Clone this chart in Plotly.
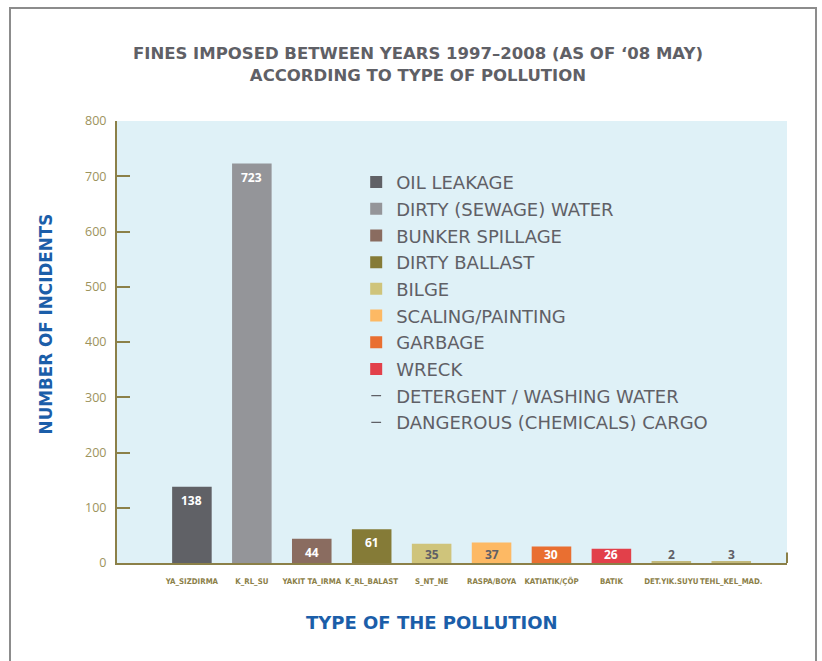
import plotly.graph_objects as go

categories = ["YA_SIZDIRMA", "K_RL_SU", "YAKIT TA_IRMA", "K_RL_BALAST", "S_NT_NE",
              "RASPA/BOYA", "KATIATIK/ÇÖP", "BATIK", "DET.YIK.SUYU", "TEHL_KEL_MAD."]
values = [138, 723, 44, 61, 35, 37, 30, 26, 2, 3]
legend_names = ["OIL LEAKAGE", "DIRTY (SEWAGE) WATER", "BUNKER SPILLAGE", "DIRTY BALLAST",
                "BILGE", "SCALING/PAINTING", "GARBAGE", "WRECK",
                "DETERGENT / WASHING WATER", "DANGEROUS (CHEMICALS) CARGO"]
colors = ["#606166", "#949599", "#8a6c60", "#857b37", "#cfc47b", "#fdb964",
          "#e96f31", "#e2404a", "#c2b97c", "#c2b97c"]
label_colors = ["white", "white", "white", "white", "#5f6066", "#5f6066",
                "white", "white", "#5f6066", "#5f6066"]
y_ticks = [0, 100, 200, 300, 400, 500, 600, 700, 800]

OLIVE = "#8b8048"
TICKCOL = "#9d935c"
BLUE = "#1b5ea9"
GREY = "#5f6066"
FONT = "DejaVu Sans"

fig = go.Figure()
for i, (cat, v, name, col) in enumerate(zip(categories, values, legend_names, colors)):
    is_dash = i >= 8
    fig.add_trace(go.Bar(
        x=[cat], y=[v], name=name, marker=dict(color=col, line=dict(width=0)),
        width=0.66, showlegend=not is_dash, legendgroup=name,
    ))
    if is_dash:
        fig.add_trace(go.Scatter(
            x=[None], y=[None], mode="markers", name=name, legendgroup=name,
            marker=dict(symbol="line-ew", size=7, color=GREY,
                        line=dict(width=1.3, color=GREY)),
        ))

# value labels
for cat, v, lc in zip(categories, values, label_colors):
    ypos = max(v - 24.5, 14.5)
    fig.add_annotation(x=cat, y=ypos, text=f"<b>{v}</b>", showarrow=False,
                       yanchor="middle", xanchor="center",
                       font=dict(family="Open Sans", size=12, color=lc))

# axis titles
fig.add_annotation(text="TYPE OF THE POLLUTION", xref="paper", yref="paper",
                   x=0.47, y=-0.135, xanchor="center", yanchor="middle", showarrow=False,
                   font=dict(family=FONT, size=18, color=BLUE, weight="bold"))
fig.add_annotation(text="NUMBER OF INCIDENTS", xref="paper", yref="paper",
                   x=-0.106, y=0.542, xanchor="center", yanchor="middle", showarrow=False,
                   textangle=-90,
                   font=dict(family=FONT, size=16.8, color=BLUE, weight="bold"))

# outer frame
fig.add_shape(type="path", xref="paper", yref="paper",
              path="M -0.1597,-0.3 L -0.1597,1.2557 L 1.0433,1.2557 L 1.0433,-0.3",
              line=dict(color="#8c8c8c", width=2))
# small end tick of x axis
fig.add_shape(type="line", xref="paper", yref="paper", x0=1, x1=1, y0=0, y1=0.024,
              line=dict(color=OLIVE, width=2))

fig.update_layout(
    width=822, height=661,
    margin=dict(l=117, r=35, t=121, b=98, autoexpand=False),
    paper_bgcolor="white",
    plot_bgcolor="#dff1f7",
    bargap=0.34,
    title=dict(text="FINES IMPOSED BETWEEN YEARS 1997–2008 (AS OF ‘08 MAY)<br>ACCORDING TO TYPE OF POLLUTION",
               x=0.5085, xanchor="center", y=0.9105, yanchor="middle",
               font=dict(family=FONT, size=16.5, color=GREY, weight="bold")),
    xaxis=dict(
        type="category", range=[-1.25, 9.93],
        showline=True, linecolor=OLIVE, linewidth=2,
        ticks="", showgrid=False, zeroline=False, tickangle=0, automargin=False,
        tickfont=dict(family="DejaVu Sans Condensed, DejaVu Sans", size=7.8,
                      color=OLIVE, weight="bold"),
        ticklabelstandoff=10,
    ),
    yaxis=dict(
        range=[0, 800], tickvals=y_ticks, ticktext=[str(t) for t in y_ticks],
        showline=True, linecolor=OLIVE, linewidth=2,
        ticks="inside", ticklen=13, tickwidth=2, tickcolor=OLIVE,
        showgrid=False, zeroline=False, automargin=False,
        tickfont=dict(family="Open Sans", size=12.5, color=TICKCOL),
        ticklabelstandoff=6,
    ),
    legend=dict(x=0.357, y=0.903, xanchor="left", yanchor="top",
                bgcolor="rgba(0,0,0,0)", borderwidth=0,
                font=dict(family=FONT, size=18, color=GREY),
                traceorder="grouped", tracegroupgap=0.3),
)

fig.write_html("out.html")
